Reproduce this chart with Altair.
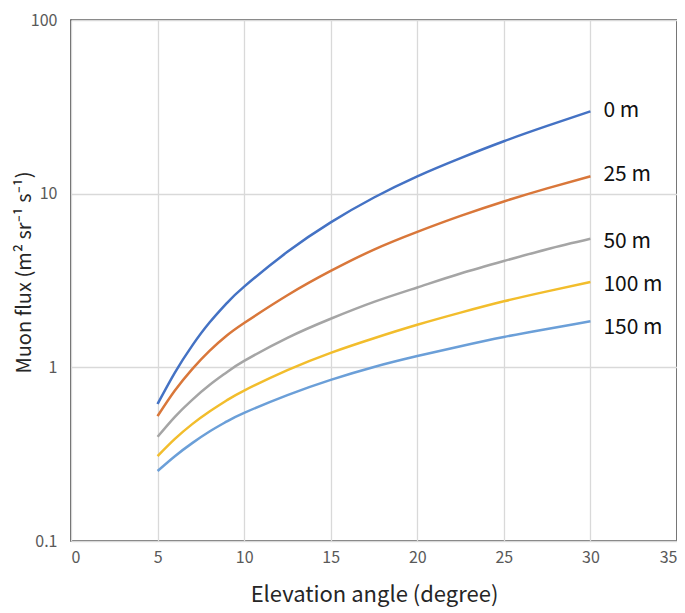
import altair as alt
import pandas as pd

angles = [5, 6, 7, 8, 9, 10, 12.5, 15, 17.5, 20, 22.5, 25, 27.5, 30]
flux_0m = [0.615, 0.933, 1.334, 1.811, 2.344, 2.917, 4.624, 6.839, 9.506, 12.59, 16.03, 20.04, 24.55, 29.79]
flux_25m = [0.524, 0.735, 0.977, 1.245, 1.524, 1.799, 2.600, 3.589, 4.764, 6.026, 7.447, 9.016, 10.72, 12.59]
flux_50m = [0.398, 0.519, 0.650, 0.791, 0.938, 1.089, 1.479, 1.905, 2.382, 2.884, 3.467, 4.093, 4.786, 5.495]
flux_100m = [0.308, 0.387, 0.471, 0.557, 0.646, 0.735, 0.963, 1.212, 1.471, 1.758, 2.065, 2.399, 2.738, 3.097]
flux_150m = [0.253, 0.308, 0.366, 0.427, 0.488, 0.547, 0.692, 0.847, 1.005, 1.161, 1.324, 1.496, 1.663, 1.841]

series_names = ["0 m", "25 m", "50 m", "100 m", "150 m"]
series_colors = ["#4472C4", "#D9773A", "#A5A5A5", "#F2BD2C", "#6B9FD8"]
label_x = [30, 30, 30, 30, 30]
label_y = [29.8, 12.85, 5.24, 2.96, 1.69]

all_series = [flux_0m, flux_25m, flux_50m, flux_100m, flux_150m]
rows = []
for name, vals in zip(series_names, all_series):
    for a, v in zip(angles, vals):
        rows.append({"angle": a, "flux": v, "series": name})
df = pd.DataFrame(rows)
labels_df = pd.DataFrame({"angle": label_x, "flux": label_y, "series": series_names})

FONT = "Noto Sans CJK JP"
PLOT_H = 521

x_scale = alt.Scale(domain=[0, 35], nice=False, zero=False)
y_scale = alt.Scale(type="log", domain=[0.1, 100], nice=False)
color_scale = alt.Scale(domain=series_names, range=series_colors)

lines = alt.Chart(df).mark_line(strokeWidth=2.5, interpolate="natural").encode(
    x=alt.X("angle:Q", scale=x_scale,
            axis=alt.Axis(title="Elevation angle (degree)", values=[0, 5, 10, 15, 20, 25, 30, 35],
                          grid=True, gridColor="#D9D9D9", gridWidth=1.3,
                          domain=False, ticks=False, labelPadding=8,
                          labelFontSize=16, labelColor="#595959", labelFont=FONT,
                          titleFontSize=22, titleFont=FONT, titleColor="#262626",
                          titleFontWeight="normal", titlePadding=19)),
    y=alt.Y("flux:Q", scale=y_scale,
            axis=alt.Axis(title="Muon flux (m² sr⁻¹ s⁻¹)", values=[0.1, 1, 10, 100], format="~g",
                          grid=True, gridColor="#D9D9D9", gridWidth=1.3,
                          domain=False, ticks=False, labelPadding=14,
                          labelFontSize=16, labelColor="#595959", labelFont=FONT,
                          titleFontSize=20, titleFont=FONT, titleColor="#262626",
                          titleFontWeight="normal", titleX=-47, titleY=252,
                          titleAlign="center", titleBaseline="middle", titleAngle=270)),
    color=alt.Color("series:N", scale=color_scale, legend=None),
    detail="series:N",
)

texts = alt.Chart(labels_df).mark_text(align="left", baseline="middle", dx=13,
                                       fontSize=21, font=FONT, color="#111111").encode(
    x=alt.X("angle:Q", scale=x_scale),
    y=alt.Y("flux:Q", scale=y_scale),
    text="series:N",
)

chart = alt.layer(lines, texts).properties(
    width=606, height=PLOT_H,
    autosize=alt.AutoSizeParams(type="none"),
    padding={"left": 63, "top": 12, "right": 0, "bottom": 71},
).configure(background="white").configure_view(stroke="#404040", strokeWidth=1.6)

chart.save("out.html", embed_options={"renderer": "svg", "actions": False})
